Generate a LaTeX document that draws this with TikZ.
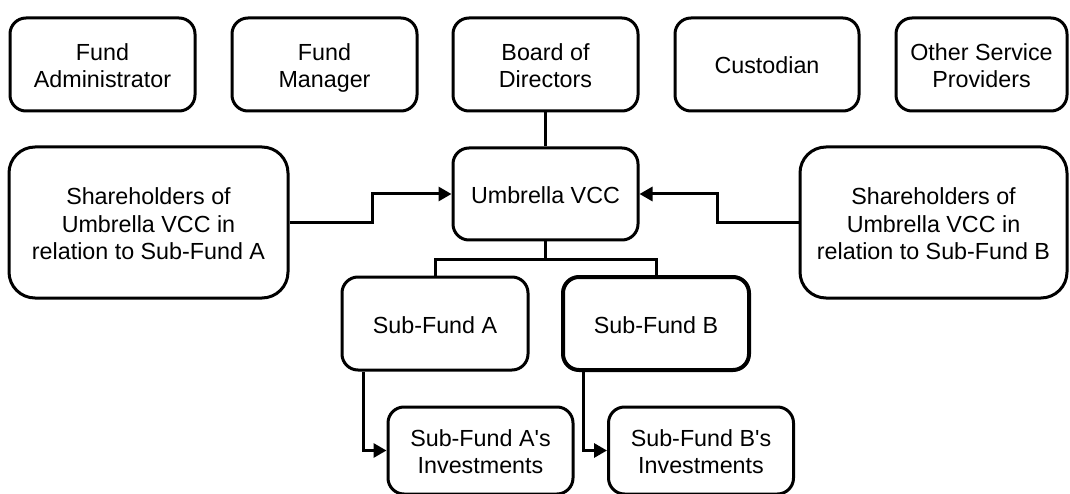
\documentclass[tikz,border=0pt]{standalone}
\usepackage{fontspec}
\setmainfont{Liberation Sans}
\usetikzlibrary{arrows.meta}
\begin{document}
\begin{tikzpicture}[x=1pt,y=-1pt,
  box/.style={draw, line width=3pt, rounded corners=16pt, align=center, inner sep=0pt,
    minimum width=185pt, minimum height=93pt, text height=19pt, text depth=0pt,
    font=\fontsize{23.3}{27.5}\selectfont},
  two/.style={text height=46.5pt},
  three/.style={text height=74pt},
  bigbox/.style={box, three, rounded corners=26pt, minimum height=151pt},
  link/.style={line width=3pt},
  arr/.style={line width=3pt, -{Triangle[length=13pt,width=14pt]}}]
\useasboundingbox (0,0) rectangle (1070,494);
% top row
\node[box, two] (fa) at (102.5,64.5) {Fund\\Administrator};
\node[box, two] (fm) at (324.5,64.5) {Fund\\Manager};
\node[box, two] (bd) at (545.5,64.5) {Board of\\Directors};
\node[box, minimum width=184pt] (cu) at (767,64.5) {Custodian};
\node[box, two, minimum width=171pt] (os) at (981.5,64.5) {Other Service\\Providers};
% middle row
\node[bigbox, minimum width=279pt] (shA) at (148.5,222.5) {Shareholders of\\Umbrella VCC in\\relation to Sub-Fund A};
\node[box, minimum height=92pt] (um) at (545.5,194) {Umbrella VCC};
\node[bigbox, minimum width=267pt] (shB) at (933.5,222.5) {Shareholders of\\Umbrella VCC in\\relation to Sub-Fund B};
% sub-funds
\node[box, minimum width=186pt] (sfA) at (435,323.5) {Sub-Fund A};
\node[box, minimum width=186pt, line width=4pt] (sfB) at (656,323.5) {Sub-Fund B};
% investments
\node[box, two, minimum height=87pt] (iA) at (480.5,450.5) {Sub-Fund A\textquotesingle s\\Investments};
\node[box, two, minimum height=87pt] (iB) at (701,450.5) {Sub-Fund B\textquotesingle s\\Investments};
% connectors
\draw[link] (bd.south) -- (um.north);
\draw[arr] (shA.east) -- ++(82.5,0) |- (um.west);
\draw[arr] (shB.west) -- ++(-81,0) |- (um.east);
\draw[link] (um.south) -- ++(0,18) -| (sfA.north);
\draw[link] (um.south) ++(0,18) -| (sfB.north);
\draw[arr] ([xshift=-72pt]sfA.south) |- (iA.west);
\draw[arr] ([xshift=-73pt]sfB.south) |- (iB.west);
\end{tikzpicture}
\end{document}
